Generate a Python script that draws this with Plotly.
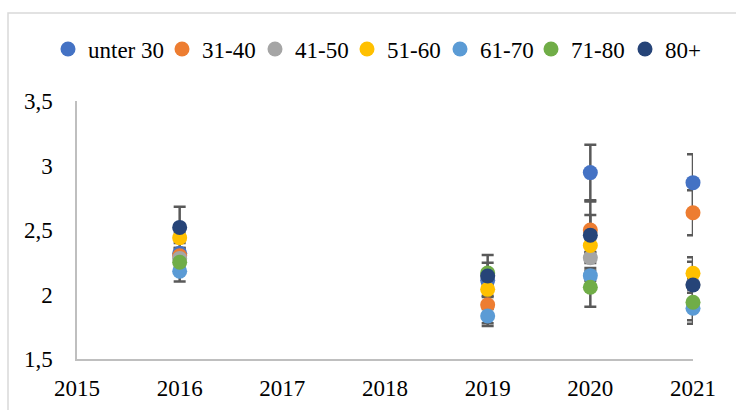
import plotly.graph_objects as go

years = [2016, 2019, 2020, 2021]
series_names = ["unter 30", "31-40", "41-50", "51-60", "61-70", "71-80", "80+"]
colors = ["#4472C4", "#ED7D31", "#A5A5A5", "#FFC000", "#5B9BD5", "#70AD47", "#264478"]

unter30 = [2.32, 2.11, 2.945, 2.867]
s31_40 = [2.30, 1.92, 2.50, 2.634]
s41_50 = [2.28, 2.15, 2.285, 2.08]
s51_60 = [2.44, 2.04, 2.38, 2.164]
s61_70 = [2.18, 1.833, 2.146, 1.893]
s71_80 = [2.25, 2.167, 2.056, 1.94]
s80plus = [2.52, 2.143, 2.46, 2.074]

err_unter30 = [0.04, 0.04, 0.215, 0.22]
err_31_40 = [0.04, 0.165, 0.22, 0.175]
err_41_50 = [0.04, 0.04, 0.04, 0.04]
err_51_60 = [0.04, 0.05, 0.05, 0.124]
err_61_70 = [0.08, 0.055, 0.04, 0.12]
err_71_80 = [0.04, 0.08, 0.15, 0.14]
err_80plus = [0.16, 0.163, 0.156, 0.18]

x_tickvals = [2015, 2016, 2017, 2018, 2019, 2020, 2021]
x_ticktext = ["2015", "2016", "2017", "2018", "2019", "2020", "2021"]
y_tickvals = [1.5, 2, 2.5, 3, 3.5]
y_ticktext = ["1,5", "2", "2,5", "3", "3,5"]

values = [unter30, s31_40, s41_50, s51_60, s61_70, s71_80, s80plus]
errors = [err_unter30, err_31_40, err_41_50, err_51_60, err_61_70, err_71_80, err_80plus]

FONT = "Liberation Serif"
W, H = 736, 410
L, R, T, B = 77, 43, 101, 51
pw, ph = W - L - R, H - T - B

# legend entry placement (left edge of each legend box, pixels)
legend_left_px = [48, 162, 255, 347, 440, 531, 625]

fig = go.Figure()

# error bars first (drawn beneath all markers)
for name, vals, errs in zip(series_names, values, errors):
    fig.add_trace(go.Scatter(
        x=years, y=vals, mode="markers",
        marker=dict(size=15, color="rgba(0,0,0,0)"),
        error_y=dict(type="data", array=errs, visible=True,
                     color="#595959", thickness=2.5, width=6),
        showlegend=False, hoverinfo="skip", cliponaxis=False,
    ))

legend_layouts = {}
for i, (name, vals, col) in enumerate(zip(series_names, values, colors)):
    lname = "legend" if i == 0 else f"legend{i + 1}"
    fig.add_trace(go.Scatter(
        x=years, y=vals, mode="markers", name=name,
        marker=dict(size=15, color=col),
        cliponaxis=False, legend=lname,
    ))
    legend_layouts[lname] = dict(
        orientation="h", xref="container", yref="container",
        x=legend_left_px[i] / W, xanchor="left",
        y=1 - 49 / H, yanchor="middle",
        font=dict(family=FONT, size=23, color="black"),
        itemwidth=30, bgcolor="rgba(0,0,0,0)",
    )

def px_x(p):
    return (p - L) / pw

def px_y(p):
    return (H - B - p) / ph

fig.add_shape(type="rect", xref="paper", yref="paper",
              x0=px_x(8), x1=px_x(745), y0=px_y(420), y1=px_y(13),
              line=dict(color="#D9D9D9", width=1.5), fillcolor="rgba(0,0,0,0)",
              layer="below")

fig.update_layout(
    width=W, height=H,
    margin=dict(l=L, r=R, t=T, b=B, autoexpand=False),
    paper_bgcolor="white", plot_bgcolor="white",
    font=dict(family=FONT, size=23, color="black"),
    xaxis=dict(range=[2015, 2021], tickvals=x_tickvals, ticktext=x_ticktext,
               showgrid=False, zeroline=False, showline=True,
               linecolor="#BFBFBF", linewidth=1.5,
               ticks="outside", ticklen=8, tickcolor="rgba(0,0,0,0)"),
    yaxis=dict(range=[1.5, 3.5], tickvals=y_tickvals, ticktext=y_ticktext,
               showgrid=False, zeroline=False, showline=True,
               linecolor="#BFBFBF", linewidth=1.5,
               ticks="outside", ticklen=18, tickcolor="rgba(0,0,0,0)"),
    **legend_layouts,
)

fig.write_html("out.html", config={"displayModeBar": False},
               post_script="document.body.style.margin='0';document.body.style.overflow='hidden';")
